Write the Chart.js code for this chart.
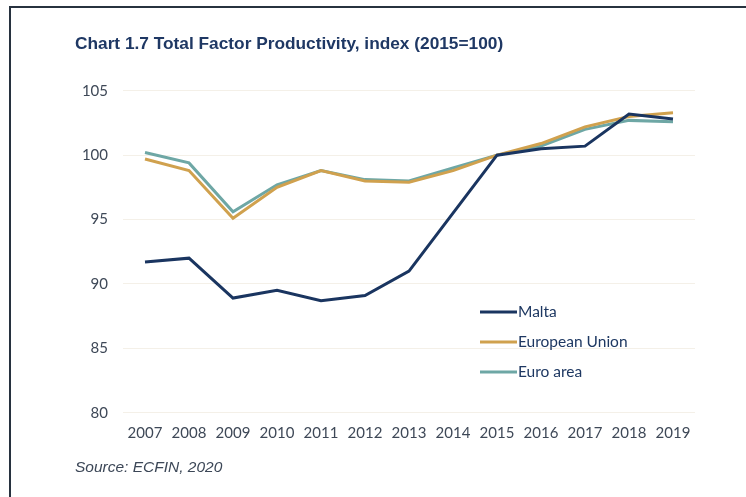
<!DOCTYPE html>
<html>
<head>
<meta charset="utf-8">
<script src="https://cdn.jsdelivr.net/npm/chart.js@4/dist/chart.umd.min.js"></script>
<style>
  html, body { margin: 0; padding: 0; background: #fff; }
  #wrap { position: relative; width: 746px; height: 497px; overflow: hidden; }
  #frame { position: absolute; left: 9px; top: 6px; right: 0; bottom: 0;
           border-left: 2px solid #27323f; border-top: 2px solid #27323f; }
  #tfp { position: absolute; left: 0; top: 0; }
</style>
</head>
<body>
<div id="wrap">
  <div id="frame"></div>
  <canvas id="tfp" width="746" height="497"></canvas>
</div>
<script>
// TFP index, 2015 = 100
var years = ['2007', '2008', '2009', '2010', '2011', '2012', '2013',
             '2014', '2015', '2016', '2017', '2018', '2019'];
var malta = [91.7, 92.0, 88.9, 89.5, 88.7, 89.1, 91.0, 95.5, 100.0, 100.5, 100.7, 103.2, 102.8];
var eu    = [99.7, 98.8, 95.1, 97.5, 98.8, 98.0, 97.9, 98.8, 100.0, 100.9, 102.2, 103.0, 103.3];
var euro  = [100.2, 99.4, 95.6, 97.7, 98.8, 98.1, 98.0, 99.0, 100.0, 100.7, 102.0, 102.7, 102.6];
var yTicks = [80, 85, 90, 95, 100, 105];

var seriesNames = ['Malta', 'European Union', 'Euro area'];
var seriesColors = ['#1a3560', '#d0a14e', '#6ea7a5'];

var tickFont = { family: 'Lato, "Open Sans", sans-serif', size: 15 };
var tickColor = '#3e4857';
var gridColor = '#f4f0e8';

// legend sits inside the plot, lower right
var insideLegend = {
    id: 'insideLegend',
    afterDraw: function(chart) {
        var ctx = chart.ctx;
        var x0 = 480, y0 = 312, step = 30;
        ctx.save();
        ctx.font = '15.5px Lato, "Open Sans", sans-serif';
        ctx.textBaseline = 'middle';
        chart.data.datasets.forEach(function(ds, i) {
            var y = y0 + i * step;
            ctx.strokeStyle = ds.borderColor;
            ctx.lineWidth = 3;
            ctx.beginPath();
            ctx.moveTo(x0, y);
            ctx.lineTo(x0 + 37, y);
            ctx.stroke();
            ctx.fillStyle = '#1e3862';
            ctx.fillText(ds.label, x0 + 38, y);
        });
        ctx.restore();
    }
};

var datasets = [malta, eu, euro].map(function(vals, i) {
    return {
        label: seriesNames[i],
        data: vals,
        borderColor: seriesColors[i],
        backgroundColor: seriesColors[i],
        borderWidth: 3,
        pointRadius: 0,
        tension: 0
    };
});

new Chart(document.getElementById('tfp'), {
    type: 'line',
    data: { labels: years, datasets: datasets },
    plugins: [insideLegend],
    options: {
        responsive: false,
        animation: false,
        layout: { padding: { left: 75, right: 51, top: 34, bottom: 19.7 } },
        plugins: {
            legend: { display: false },
            tooltip: { enabled: false },
            title: {
                display: true,
                text: 'Chart 1.7 Total Factor Productivity, index (2015=100)',
                align: 'start',
                color: '#1f3864',
                font: { family: '"Liberation Sans", Arial, sans-serif', size: 17.3, weight: 'bold' },
                padding: { top: 0, bottom: 36 }
            },
            subtitle: {
                display: true,
                position: 'bottom',
                text: 'Source: ECFIN, 2020',
                align: 'start',
                color: '#3c4757',
                font: { family: '"Liberation Sans", Arial, sans-serif', size: 15.5, style: 'italic' },
                padding: { top: 0, bottom: 0 }
            }
        },
        scales: {
            x: {
                offset: true,
                grid: { display: false, drawTicks: false },
                border: { display: false },
                ticks: { color: tickColor, font: tickFont, padding: 11, maxRotation: 0, autoSkip: false },
                afterFit: function(scale) { scale.height = 46; }
            },
            y: {
                min: 80,
                max: 105,
                afterBuildTicks: function(scale) {
                    scale.ticks = yTicks.map(function(v) { return { value: v }; });
                },
                grid: { color: gridColor, lineWidth: 1, drawTicks: false },
                border: { display: false },
                ticks: { color: tickColor, font: tickFont, padding: 15 },
                afterFit: function(scale) { scale.width = 48; }
            }
        }
    }
});
</script>
</body>
</html>
